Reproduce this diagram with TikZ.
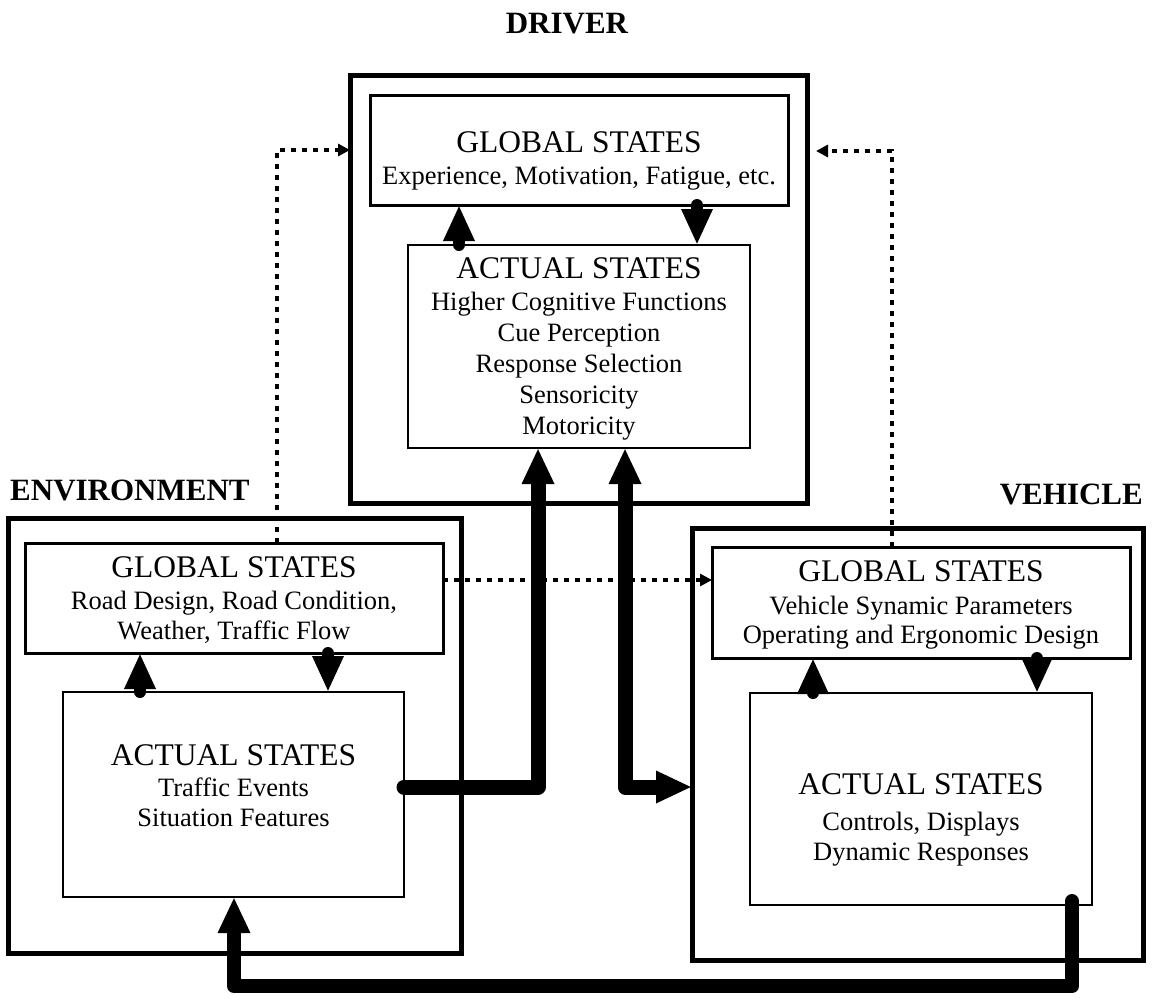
\documentclass[tikz,border=0pt]{standalone}
\usepackage{fontspec}
\setmainfont{Liberation Serif}
\usetikzlibrary{arrows.meta,calc}

\newcommand\hdfont{\fontsize{31.5}{36}\selectfont}
\newcommand\bdfont{\fontsize{26.5}{30}\selectfont}
\newcommand\ttlfont{\fontsize{31}{36}\selectfont\bfseries}

\tikzset{
  outerbox/.style={draw, line width=5pt, inner sep=0pt, outer sep=0pt},
  innerbox/.style={draw, line width=3pt, inner sep=0pt, outer sep=0pt},
  actbox/.style={draw, line width=2.5pt, inner sep=0pt, outer sep=0pt},
  hd/.style={anchor=base, inner sep=0pt, font=\hdfont},
  bd/.style={anchor=base, inner sep=0pt, font=\bdfont},
  ttl/.style={anchor=base, inner sep=0pt, font=\ttlfont},
  link/.style={line width=12pt, line cap=round,
    -{Triangle[length=36pt,width=29pt]}},
  flow/.style={line width=15pt, line cap=round, line join=round},
  bigtip/.tip={Triangle[length=36pt,width=30pt]},
  dotlink/.style={line width=3.3pt, dash pattern=on 5pt off 6pt,
    -{Triangle[length=12pt,width=12pt]}}
}

\begin{document}
\begin{tikzpicture}[x=1pt,y=-1pt]
\useasboundingbox (0,0) rectangle (1153,998);

% ---- group titles
\node[ttl] (tdrv) at (567,34) {DRIVER};
\node[ttl, anchor=base west] (tenv) at (10,500) {ENVIRONMENT};
\node[ttl, anchor=base east] (tveh) at (1143,504) {VEHICLE};

% ---- driver
\node[outerbox, minimum width=457pt, minimum height=428pt] (dout) at (578.5,289) {};
\node[innerbox, minimum width=418pt, minimum height=110pt] (dglob) at (579,150) {};
\node[actbox, minimum width=342pt, minimum height=203pt] (dact) at (579,346.5) {};

\node[hd] (dg1) at (579,152) {GLOBAL STATES};
\node[bd] (dg2) at (579,184) {Experience, Motivation, Fatigue, etc.};

\node[hd] (da1) at (579,278) {ACTUAL STATES};
\node[bd] (da2) at (579,310) {Higher Cognitive Functions};
\node[bd] (da3) at (579,341) {Cue Perception};
\node[bd] (da4) at (579,372) {Response Selection};
\node[bd] (da5) at (579,403) {Sensoricity};
\node[bd] (da6) at (579,434) {Motoricity};

% ---- environment
\node[outerbox, minimum width=453pt, minimum height=435pt] (eout) at (234.5,735.5) {};
\node[innerbox, minimum width=418pt, minimum height=110pt] (eglob) at (234,598) {};
\node[actbox, minimum width=341pt, minimum height=205pt] (eact) at (233.5,794.5) {};

\node[hd] (eg1) at (234,577) {GLOBAL STATES};
\node[bd] (eg2) at (234,609) {Road Design, Road Condition,};
\node[bd] (eg3) at (234,639) {Weather, Traffic Flow};

\node[hd] (ea1) at (233.5,765) {ACTUAL STATES};
\node[bd] (ea2) at (233.5,796) {Traffic Events};
\node[bd] (ea3) at (233.5,826) {Situation Features};

% ---- vehicle
\node[outerbox, minimum width=451pt, minimum height=432pt] (vout) at (917.5,744) {};
\node[innerbox, minimum width=418pt, minimum height=111pt] (vglob) at (921,602.5) {};
\node[actbox, minimum width=342pt, minimum height=212pt] (vact) at (921,799) {};

\node[hd] (vg1) at (921,581) {GLOBAL STATES};
\node[bd] (vg2) at (921,614) {Vehicle Synamic Parameters};
\node[bd] (vg3) at (921,643) {Operating and Ergonomic Design};

\node[hd] (va1) at (921,794) {ACTUAL STATES};
\node[bd] (va2) at (921,830) {Controls, Displays};
\node[bd] (va3) at (921,860) {Dynamic Responses};

% ---- links between global and actual states
\draw[link] ([xshift=-120pt]dact.north) coordinate (d1) -- (d1 |- dglob.south);
\draw[link] ([xshift=118pt]dglob.south) coordinate (d2) -- (d2 |- dact.north);
\draw[link] ([xshift=-93.5pt]eact.north) coordinate (e1) -- (e1 |- eglob.south);
\draw[link] ([xshift=94pt]eglob.south) coordinate (e2) -- (e2 |- eact.north);
\draw[link] ([xshift=-108pt]vact.north) coordinate (v1) -- (v1 |- vglob.south);
\draw[link] ([xshift=116pt]vglob.south) coordinate (v2) -- (v2 |- vact.north);

% ---- dotted influences on global states
\draw[dotlink] ([xshift=43pt]eglob.north) |- ([yshift=139pt]dout.west);
\draw[dotlink] ([yshift=18pt]eglob.east) coordinate (e3) -- (e3 -| vglob.west);
\draw[dotlink, shorten >=9pt] ([xshift=-29pt]vglob.north) |- ([yshift=138pt]dout.east);

% ---- main flows
\draw[flow, -bigtip] ([yshift=7.5pt]eact.east) -| ([xshift=-41pt]dact.south);
\draw[flow, bigtip-bigtip] ([xshift=46pt]dact.south) |- ([yshift=-43pt]vout.west);
\draw[flow, line width=14pt, -bigtip] ([xshift=151pt,yshift=4pt]vact.south)
  -- ++(0,85) -| ([xshift=0.5pt]eact.south);
\end{tikzpicture}
\end{document}
